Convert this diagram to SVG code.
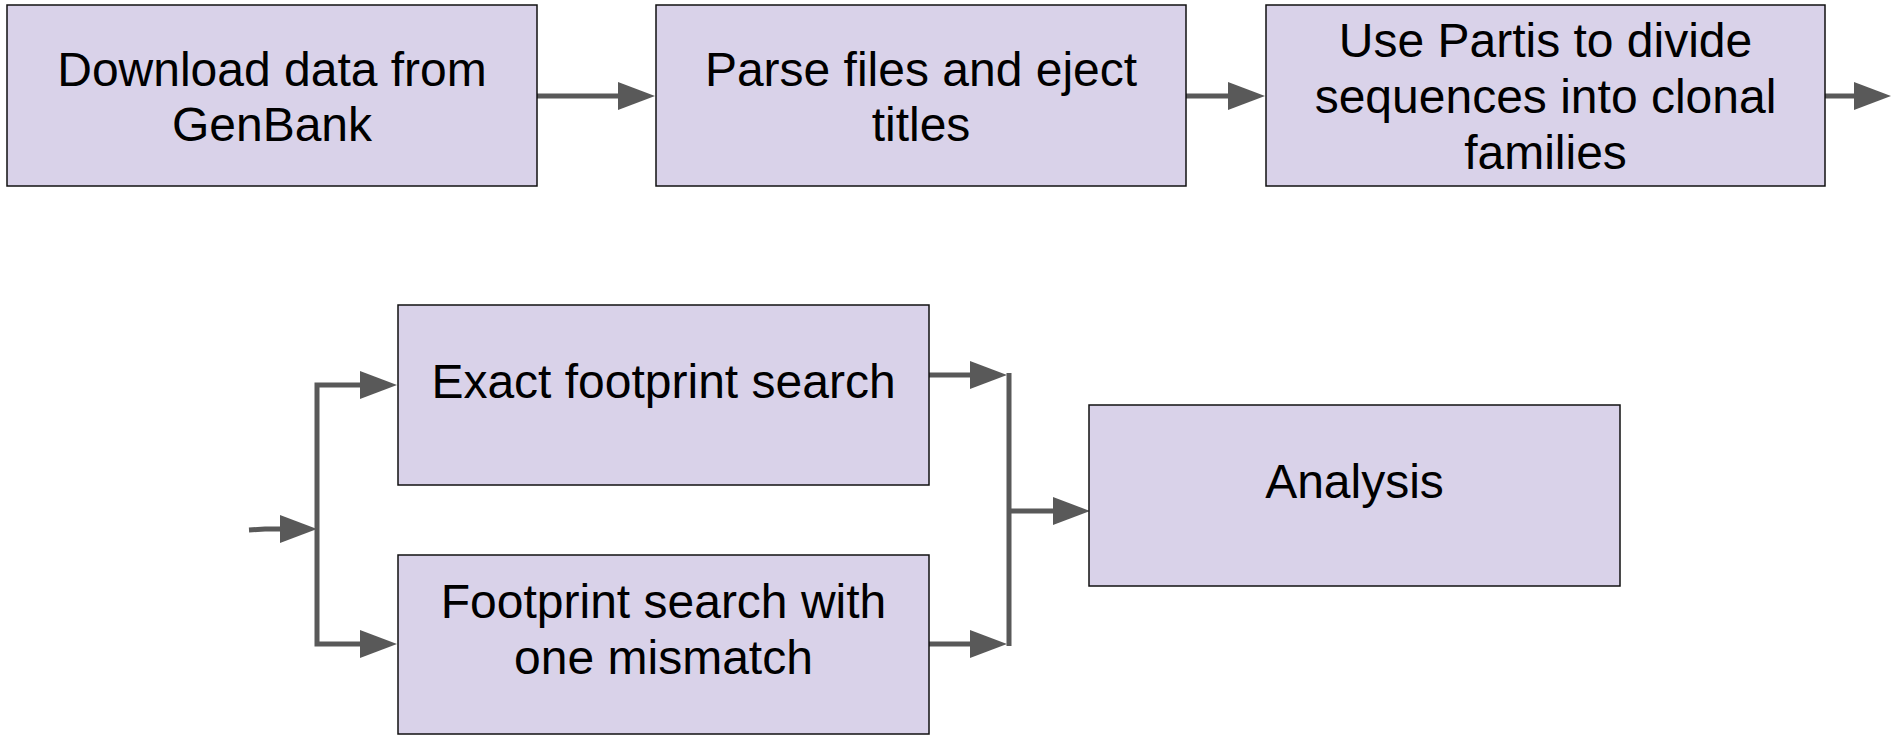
<svg xmlns="http://www.w3.org/2000/svg" width="1891" height="736" viewBox="0 0 1891 736">
  <style>
    .box { fill: #d9d2e9; stroke: #111; stroke-width: 1.5; }
    .lbl { font-family: "Liberation Sans", Arial, sans-serif; font-size: 48px; fill: #000; text-anchor: middle; }
    .conn { fill: none; stroke: #595959; stroke-width: 5; stroke-linejoin: miter; }
  </style>
  <defs>
    <marker id="arr" markerUnits="userSpaceOnUse" markerWidth="38" markerHeight="28" refX="0" refY="14" orient="auto" overflow="visible">
      <path d="M0,0 L37,14 L0,28 Z" fill="#595959"/>
    </marker>
  </defs>
  <rect width="1891" height="736" fill="#ffffff"/>

  <g id="connectors">
    <path class="conn" d="M537,96 H618" marker-end="url(#arr)"/>
    <path class="conn" d="M1186,96 H1228" marker-end="url(#arr)"/>
    <path class="conn" d="M1825,96 H1854" marker-end="url(#arr)"/>
    <path class="conn" d="M249,530 L265,529 H280" marker-end="url(#arr)"/>
    <path class="conn" d="M317,529 V385 H360" marker-end="url(#arr)"/>
    <path class="conn" d="M317,529 V644 H360" marker-end="url(#arr)"/>
    <path class="conn" d="M929,375 H970" marker-end="url(#arr)"/>
    <path class="conn" d="M929,644 H970" marker-end="url(#arr)"/>
    <path class="conn" d="M1009,373 V646"/>
    <path class="conn" d="M1009,511 H1053" marker-end="url(#arr)"/>
  </g>

  <g id="node-download">
    <rect class="box" x="7" y="5" width="530" height="181"/>
    <text class="lbl" x="272" y="86">Download data from</text>
    <text class="lbl" x="272" y="141">GenBank</text>
  </g>
  <g id="node-parse">
    <rect class="box" x="656" y="5" width="530" height="181"/>
    <text class="lbl" x="921" y="86">Parse files and eject</text>
    <text class="lbl" x="921" y="141">titles</text>
  </g>
  <g id="node-partis">
    <rect class="box" x="1266" y="5" width="559" height="181"/>
    <text class="lbl" x="1545.5" y="57">Use Partis to divide</text>
    <text class="lbl" x="1545.5" y="113">sequences into clonal</text>
    <text class="lbl" x="1545.5" y="169">families</text>
  </g>
  <g id="node-exact">
    <rect class="box" x="398" y="305" width="531" height="180"/>
    <text class="lbl" x="663.5" y="398">Exact footprint search</text>
  </g>
  <g id="node-mismatch">
    <rect class="box" x="398" y="555" width="531" height="179"/>
    <text class="lbl" x="663.5" y="618">Footprint search with</text>
    <text class="lbl" x="663.5" y="674">one mismatch</text>
  </g>
  <g id="node-analysis">
    <rect class="box" x="1089" y="405" width="531" height="181"/>
    <text class="lbl" x="1354.5" y="498">Analysis</text>
  </g>
</svg>
